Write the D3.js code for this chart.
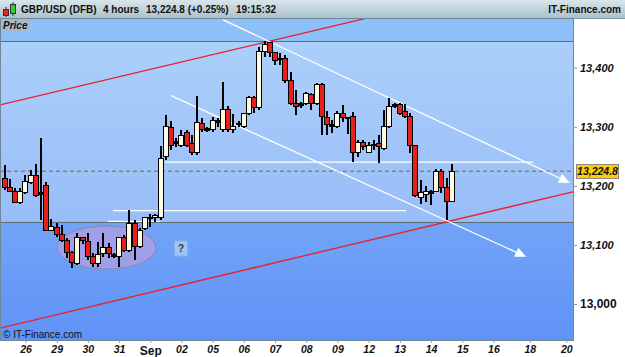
<!DOCTYPE html>
<html>
<head>
<meta charset="utf-8">
<script src="https://cdn.jsdelivr.net/npm/d3@7"></script>
<style>
  body { margin: 0; background: #fff; }
  svg { display: block; font-family: "Liberation Sans", Arial, sans-serif; }
</style>
</head>
<body>
<div id="chart"></div>
<script>
// 4 hour candles, GBP/USD (DFB), one entry per candle (index 0 = first candle on screen)
var opens = [13213,13198,13190,13171,13189,13205,13218,13188,13200,13125,
  13130,13117,13107,13088,13069,13112,13105,13081,13069,13085,
  13095,13083,13081,13113,13091,13137,13098,13127,13144,13146,
  13147,13249,13298,13275,13269,13291,13271,13256,13306,13296,
  13295,13310,13295,13330,13295,13306,13301,13323,13349,13332,
  13427,13442,13425,13416,13416,13379,13340,13338,13340,13354,
  13340,13371,13315,13303,13300,13323,13315,13317,13257,13274,
  13257,13269,13271,13264,13300,13337,13337,13325,13318,13269,
  13181,13186,13190,13191,13225,13198,13174];
var highs = [13235,13212,13196,13196,13218,13227,13237,13281,13207,13144,
  13137,13134,13112,13090,13120,13113,13120,13086,13105,13120,
  13103,13086,13113,13117,13159,13142,13129,13147,13152,13152,
  13268,13320,13310,13281,13295,13295,13286,13352,13315,13300,
  13317,13315,13376,13335,13322,13310,13323,13352,13352,13435,
  13445,13444,13427,13425,13422,13393,13362,13342,13359,13357,
  13374,13374,13327,13312,13327,13337,13317,13325,13278,13278,
  13274,13278,13286,13328,13349,13340,13340,13338,13323,13269,
  13210,13200,13193,13228,13228,13213,13237];
var lows = [13193,13190,13171,13169,13187,13203,13181,13142,13123,13124,
  13113,13105,13078,13061,13066,13102,13075,13063,13063,13080,
  13078,13078,13063,13088,13088,13075,13095,13125,13130,13139,
  13142,13244,13261,13266,13266,13266,13252,13252,13291,13291,
  13291,13300,13291,13291,13290,13300,13298,13320,13323,13328,
  13418,13418,13405,13405,13374,13337,13320,13332,13337,13328,
  13337,13286,13286,13290,13298,13308,13288,13240,13249,13261,
  13256,13261,13238,13261,13298,13332,13320,13315,13256,13181,
  13169,13173,13168,13190,13188,13142,13173];
var closes = [13198,13191,13171,13191,13207,13218,13184,13187,13125,13132,
  13117,13108,13088,13071,13112,13107,13080,13069,13083,13095,
  13085,13083,13113,13091,13137,13098,13125,13146,13147,13149,
  13247,13300,13269,13274,13286,13269,13256,13308,13295,13297,
  13310,13309,13330,13295,13301,13305,13323,13349,13332,13427,
  13440,13425,13413,13415,13379,13340,13335,13339,13356,13340,
  13371,13317,13303,13302,13323,13315,13316,13257,13274,13266,
  13268,13270,13266,13300,13335,13336,13323,13318,13269,13184,
  13188,13191,13189,13225,13198,13173,13224.8];

// day labels on the time axis (candle index where each day starts)
var dayTickIndex = [4,10,16,22,28,34,40,46,52,58,64,70,76,82,88,94,101,108];
var dayTickLabel = ["26","29","30","31","Sep","02","05","06","07","08","09","12","13","14","15","16","18","20"];

var priceTicks = [13000,13100,13200,13300,13400];
var lastPrice = 13224.8;

// drawn objects: [candle index, price] pairs
var redChannelTop = [[-0.9,13337],[50,13443]];
var redChannelBottom = [[-0.9,12959],[109.3,13190]];
var whiteArrowTop = [[42,13481],[108.7,13205]];
var whiteArrowBottom = [[31.9,13353],[100.3,13080]];
// [price, from index, to index]
var whiteLevels = [[13240,30.8,101.6],[13158,20.8,77.2],[13140,19.9,29.9]];
var grayLevels = [13445,13139];
var zoneEllipse = {i: 19.6, p: 13095.7, di: 9.5, dp: 36.4};
var questionMark = {i: 33.9, p: 13094};

var W = 625, H = 357;
var plot = {left: 0, top: 19, right: 573, bottom: 340};

var svg = d3.select('#chart').append('svg')
  .attr('width', W).attr('height', H);

var defs = svg.append('defs');

var x = d3.scaleLinear().domain([-0.9, 109.3]).range([plot.left, plot.right]);
var y = d3.scaleLinear().domain([12939.1, 13482.4]).range([plot.bottom, plot.top]);

// gradients
var bgGrad = defs.append('linearGradient').attr('id', 'bg')
  .attr('x1', 0).attr('y1', 0).attr('x2', 0).attr('y2', 1);
bgGrad.append('stop').attr('offset', '0%').attr('stop-color', '#8fc1f8');
bgGrad.append('stop').attr('offset', '100%').attr('stop-color', '#6093f6');

var headGrad = defs.append('linearGradient').attr('id', 'head')
  .attr('x1', 0).attr('y1', 0).attr('x2', 0).attr('y2', 1);
headGrad.append('stop').attr('offset', '0%').attr('stop-color', '#d9e5eb');
headGrad.append('stop').attr('offset', '100%').attr('stop-color', '#a9bfcb');

defs.append('clipPath').attr('id', 'plotclip')
  .append('rect')
  .attr('x', plot.left).attr('y', plot.top)
  .attr('width', plot.right - plot.left).attr('height', plot.bottom - plot.top);

// background
svg.append('rect').attr('x', 0).attr('y', 0).attr('width', W).attr('height', H).attr('fill', '#fff');
svg.append('rect')
  .attr('x', plot.left).attr('y', plot.top)
  .attr('width', plot.right - plot.left).attr('height', plot.bottom - plot.top)
  .attr('fill', 'url(#bg)');

// lighter zone between the two horizontal levels
svg.append('rect')
  .attr('x', plot.left).attr('y', y(grayLevels[0]))
  .attr('width', plot.right - plot.left)
  .attr('height', y(grayLevels[1]) - y(grayLevels[0]))
  .attr('fill', '#fff').attr('opacity', 0.28);

// header bar
svg.append('rect').attr('x', 0).attr('y', 0).attr('width', W).attr('height', plot.top)
  .attr('fill', 'url(#head)');
svg.append('line').attr('x1', 0).attr('x2', W).attr('y1', plot.top - 0.5).attr('y2', plot.top - 0.5)
  .attr('stroke', '#7f98a6');

// small candle icon in the header
svg.append('line').attr('x1', 6).attr('x2', 6).attr('y1', 7).attr('y2', 17).attr('stroke', '#333');
svg.append('rect').attr('x', 3.5).attr('y', 9.5).attr('width', 5).attr('height', 6)
  .attr('fill', '#e8262a').attr('stroke', '#333');
svg.append('line').attr('x1', 13).attr('x2', 13).attr('y1', 2).attr('y2', 16).attr('stroke', '#333');
svg.append('rect').attr('x', 10.5).attr('y', 4.5).attr('width', 5).attr('height', 9)
  .attr('fill', '#33cc33').attr('stroke', '#333');

var headText = svg.append('g').attr('font-size', 10).attr('font-weight', 'bold').attr('fill', '#111');
headText.append('text').attr('x', 21).attr('y', 13).text('GBP/USD (DFB)');
headText.append('text').attr('x', 103).attr('y', 13).text('4 hours');
headText.append('text').attr('x', 146).attr('y', 13).text('13,224.8 (+0.25%)');
headText.append('text').attr('x', 236).attr('y', 13).text('19:15:32');
headText.append('text').attr('x', 621).attr('y', 13).attr('text-anchor', 'end').text('IT-Finance.com');

// plot content (clipped)
var g = svg.append('g').attr('clip-path', 'url(#plotclip)');

// horizontal gray levels
grayLevels.forEach(function(p) {
  g.append('line')
    .attr('x1', plot.left).attr('x2', plot.right)
    .attr('y1', Math.round(y(p)) + 0.5).attr('y2', Math.round(y(p)) + 0.5)
    .attr('stroke', '#5f6f78').attr('stroke-width', 1);
});

// ellipse zone
g.append('ellipse')
  .attr('cx', x(zoneEllipse.i)).attr('cy', y(zoneEllipse.p))
  .attr('rx', x(zoneEllipse.i + zoneEllipse.di) - x(zoneEllipse.i))
  .attr('ry', y(zoneEllipse.p - zoneEllipse.dp) - y(zoneEllipse.p))
  .attr('fill', '#ad9fe3').attr('fill-opacity', 0.8)
  .attr('stroke', '#8f89b8').attr('stroke-width', 1.2);

// last price dashed line
g.append('line')
  .attr('x1', plot.left).attr('x2', plot.right)
  .attr('y1', y(lastPrice)).attr('y2', y(lastPrice))
  .attr('stroke', '#8c8a4e').attr('stroke-width', 1.5)
  .attr('stroke-dasharray', '4,3');

// red channel lines, extended over the full chart width
function extendLine(pts) {
  var i1 = pts[0][0], p1 = pts[0][1], i2 = pts[1][0], p2 = pts[1][1];
  var slope = (p2 - p1) / (i2 - i1);
  var d = x.domain();
  return [[d[0], p1 + slope * (d[0] - i1)], [d[1], p1 + slope * (d[1] - i1)]];
}
[redChannelTop, redChannelBottom].forEach(function(pts) {
  var e = extendLine(pts);
  g.append('line')
    .attr('x1', x(e[0][0])).attr('y1', y(e[0][1]))
    .attr('x2', x(e[1][0])).attr('y2', y(e[1][1]))
    .attr('stroke', '#e8202a').attr('stroke-width', 1.3);
});

// white horizontal levels
whiteLevels.forEach(function(l) {
  g.append('line')
    .attr('x1', x(l[1])).attr('x2', x(l[2]))
    .attr('y1', y(l[0])).attr('y2', y(l[0]))
    .attr('stroke', '#ffffff').attr('stroke-width', 1.3);
});

// white arrows
[whiteArrowTop, whiteArrowBottom].forEach(function(pts) {
  var xa = x(pts[0][0]), ya = y(pts[0][1]);
  var xb = x(pts[1][0]), yb = y(pts[1][1]);
  var ang = Math.atan2(yb - ya, xb - xa);
  var len = 11, half = 5;
  var bx = xb - len * Math.cos(ang), by = yb - len * Math.sin(ang);
  g.append('line')
    .attr('x1', xa).attr('y1', ya).attr('x2', bx).attr('y2', by)
    .attr('stroke', '#ffffff').attr('stroke-width', 1.3);
  g.append('path')
    .attr('d', 'M' + xb + ',' + yb +
      'L' + (bx + half * Math.sin(ang)) + ',' + (by - half * Math.cos(ang)) +
      'L' + (bx - half * Math.sin(ang)) + ',' + (by + half * Math.cos(ang)) + 'Z')
    .attr('fill', '#ffffff');
});

// question mark box
var qx = x(questionMark.i), qy = y(questionMark.p);
g.append('rect')
  .attr('x', qx - 6.5).attr('y', qy - 7.5).attr('width', 13).attr('height', 15)
  .attr('fill', '#9fc6f3').attr('stroke', '#88b0e0');
g.append('text')
  .attr('x', qx).attr('y', qy + 4).attr('text-anchor', 'middle')
  .attr('font-size', 10).attr('font-weight', 'bold').attr('fill', '#334')
  .text('?');

// candles
var candles = opens.map(function(o, i) {
  return {i: i, o: o, h: highs[i], l: lows[i], c: closes[i]};
});
var cg = g.append('g').attr('shape-rendering', 'crispEdges');
cg.selectAll('.wick').data(candles).enter().append('rect')
  .attr('class', 'wick')
  .attr('x', function(d) { return Math.round(x(d.i)) - 1; })
  .attr('y', function(d) { return y(d.h); })
  .attr('width', 2)
  .attr('height', function(d) { return y(d.l) - y(d.h); })
  .attr('fill', '#000');
cg.selectAll('.body').data(candles).enter().append('rect')
  .attr('class', 'body')
  .attr('x', function(d) { return Math.round(x(d.i)) - 2.5; })
  .attr('y', function(d) { return y(Math.max(d.o, d.c)); })
  .attr('width', 5)
  .attr('height', function(d) { return Math.max(1.5, Math.abs(y(d.o) - y(d.c))); })
  .attr('fill', function(d) {
    if (Math.abs(d.o - d.c) < 2) return '#000';
    return d.c >= d.o ? '#fffbe2' : '#e8201c';
  })
  .attr('stroke', '#000').attr('stroke-width', 1);

// plot frame
svg.append('rect')
  .attr('x', plot.left + 0.5).attr('y', plot.top - 0.5)
  .attr('width', plot.right - plot.left).attr('height', plot.bottom - plot.top + 1)
  .attr('fill', 'none').attr('stroke', '#6f8796');

// "Price" label
svg.append('rect').attr('x', 1).attr('y', plot.top).attr('width', 28).attr('height', 12)
  .attr('fill', '#a9bac6');
svg.append('text').attr('x', 3).attr('y', plot.top + 10)
  .attr('font-size', 10).attr('font-weight', 'bold').attr('font-style', 'italic')
  .attr('fill', '#111').text('Price');

// price axis
var yAxis = svg.append('g')
  .attr('transform', 'translate(' + plot.right + ',0)')
  .call(d3.axisRight(y).tickValues(priceTicks).tickSize(4).tickPadding(3)
    .tickFormat(d3.format(',')));
yAxis.select('.domain').remove();
yAxis.selectAll('.tick line').attr('stroke', '#8a9aa6');
yAxis.selectAll('.tick text')
  .attr('fill', '#111')
  .attr('font-family', '"Liberation Sans", Arial, sans-serif')
  .attr('font-weight', 'bold')
  .attr('font-style', function(d) { return d === 13000 ? 'normal' : 'italic'; })
  .attr('font-size', function(d) { return d === 13000 ? 12 : 11; });

// last price tag
var ly = y(lastPrice);
svg.append('rect').attr('x', 576.5).attr('y', Math.round(ly) - 6.5).attr('width', 42).attr('height', 14)
  .attr('fill', '#ffcc00').attr('stroke', '#8a8a8a');
svg.append('text').attr('x', 597.5).attr('y', ly + 4).attr('text-anchor', 'middle')
  .attr('font-size', 10.5).attr('font-weight', 'bold').attr('font-style', 'italic')
  .attr('fill', '#111').text(d3.format(',.1f')(lastPrice));

// time axis
var xAxis = svg.append('g')
  .attr('transform', 'translate(0,' + plot.bottom + ')')
  .call(d3.axisBottom(x).tickValues(dayTickIndex).tickSize(3).tickPadding(3)
    .tickFormat(function(d, i) { return dayTickLabel[i]; }));
xAxis.select('.domain').remove();
xAxis.selectAll('.tick line').attr('stroke', '#8a9aa6');
xAxis.selectAll('.tick text')
  .attr('fill', '#111')
  .attr('font-family', '"Liberation Sans", Arial, sans-serif')
  .attr('font-weight', 'bold')
  .attr('font-style', function(d, i) { return dayTickLabel[i] === 'Sep' ? 'normal' : 'italic'; })
  .attr('font-size', function(d, i) { return dayTickLabel[i] === 'Sep' ? 12 : 10.5; });

// copyright
svg.append('text').attr('x', 3).attr('y', 338)
  .attr('font-size', 10).attr('fill', '#111').text('\u00a9 IT-Finance.com');
</script>
</body>
</html>
